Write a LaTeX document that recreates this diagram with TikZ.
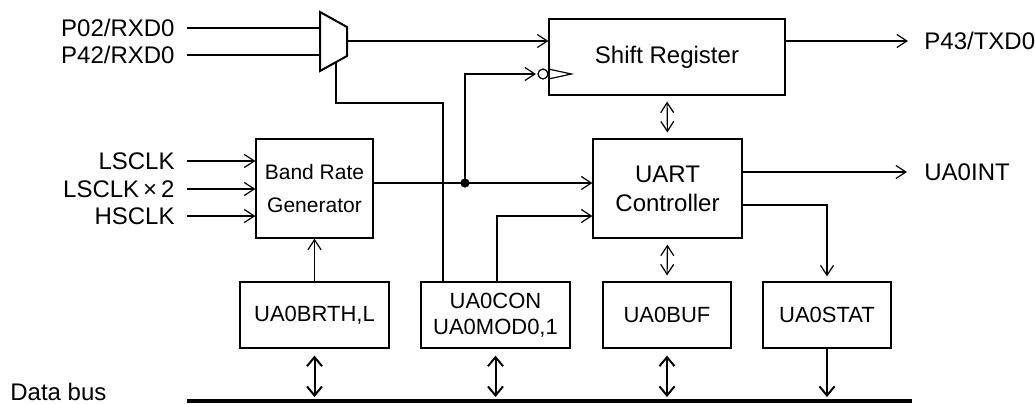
\documentclass[tikz,border=0pt]{standalone}
\usepackage{fontspec}
\setmainfont{Liberation Sans}
\usetikzlibrary{arrows.meta,calc}

\tikzset{
  blk/.style={draw, line width=0.6pt, inner sep=0pt, align=center, font=\fontsize{12}{14.5}\selectfont},
  reg/.style={blk, minimum height=33pt, font=\fontsize{11}{13}\selectfont},
  pin/.style={inner sep=0pt, text height=8.6pt, text depth=0pt, font=\fontsize{12}{14}\selectfont},
  sig/.style={line width=0.6pt},
  tip/.style={sig, -{Straight Barb[length=5pt,width=6.5pt]}},
  bitip/.style={sig, {Straight Barb[length=5pt,width=6.5pt]}-{Straight Barb[length=5pt,width=6.5pt]}},
  busarrow/.style={line width=1pt, {Straight Barb[length=4.5pt,width=7.5pt]}-{Straight Barb[length=4.5pt,width=7.5pt]}},
  busdown/.style={line width=1pt, -{Straight Barb[length=4.5pt,width=7.5pt]}},
}

\begin{document}
\begin{tikzpicture}[x=0.5pt,y=-0.5pt]
  \useasboundingbox (0,0) rectangle (1035,403);

  % main blocks
  \node[blk, minimum width=118pt, minimum height=38pt] (shift) at (667,57) {Shift Register};
  \node[blk, minimum width=74.5pt, minimum height=49.5pt] (uart) at (667.5,188.5) {UART\\Controller};
  \node[blk, minimum width=58.5pt, minimum height=49.5pt, font=\fontsize{10.5}{16.5}\selectfont] (brg) at (314.5,188.5) {Band Rate\\Generator};

  % registers
  \node[reg, minimum width=74.5pt] (brth) at (314.5,315) {UA0BRTH,L};
  \node[reg, minimum width=74.5pt] (con) at (495.5,315) {UA0CON\\UA0MOD0,1};
  \node[reg, minimum width=64pt] (buf) at (667,315) {UA0BUF};
  \node[reg, minimum width=64pt] (stat) at (827,315) {UA0STAT};

  % pins
  \node[pin, anchor=east] (p02) at (175,28) {P02/RXD0};
  \node[pin, anchor=east] (p42) at (175,55) {P42/RXD0};
  \node[pin, anchor=east] (lsclk) at (175,161) {LSCLK};
  \node[pin, anchor=east] (lsclkx) at (175,189) {LSCLK\,×\,2};
  \node[pin, anchor=east] (hsclk) at (175,216) {HSCLK};
  \node[pin, anchor=west] (txd) at (924,41) {P43/TXD0};
  \node[pin, anchor=west] (int) at (924,172) {UA0INT};
  \node[pin, anchor=west] (dbus) at (10,392) {Data bus};

  % multiplexer
  \coordinate (mtop) at (320,12);
  \coordinate (mout) at (347,41);
  \coordinate (msel) at (336,62);
  \draw[line width=1pt] (mtop) -- (347,27) -- (347,56) -- (320,71) -- cycle;
  \foreach \p in {p02,p42}
    \draw[sig, shorten <=6pt] (\p.east) -- (\p.east -| mtop);
  \draw[tip] (mout) -- (mout -| shift.west);
  \coordinate (sel) at (443,103);
  \draw[sig] (msel) |- (sel) -- (sel |- con.north);

  % clock inputs
  \foreach \p in {lsclk,lsclkx,hsclk}
    \draw[tip, shorten <=6pt] (\p.east) -- (\p.east -| brg.west);
  \draw[tip] (brth.north) -- (brg.south);

  % baud clock to shift register and controller
  \coordinate (dot) at (465,183);
  \coordinate (clk) at (543,74);
  \draw[tip] (brg.east |- dot) -- (dot -| uart.west);
  \fill (dot) circle (2.3pt);
  \draw[tip] (dot) |- ($(clk)+(-7,0)$);
  \draw[sig] (clk) circle (2.5pt);
  \draw[sig] ($(shift.west |- clk)+(0,-5)$) -- ($(shift.west |- clk)+(23,0)$) -- ($(shift.west |- clk)+(0,5)$);

  % mode control
  \coordinate (mode) at (497,216);
  \draw[tip] (mode |- con.north) -- (mode) -- (mode -| uart.west);

  % controller links
  \draw[bitip, shorten <=3pt, shorten >=3pt] (shift.south) -- (uart.north);
  \draw[bitip, shorten <=3pt, shorten >=3pt] (uart.south) -- (buf.north);
  \draw[tip, shorten >=8.5pt] (int.west -| uart.east) -- (int.west);
  \draw[tip, shorten >=8pt] (txd.west -| shift.east) -- (txd.west);
  \draw[tip, shorten >=2.5pt] ($(uart.east)+(0,16.5)$) -| (stat.north);

  % data bus
  \coordinate (busL) at (187,401);
  \coordinate (busR) at (912,401);
  \draw[line width=2pt] (busL) -- (busR);
  \foreach \r in {brth,con,buf}
    \draw[busarrow, shorten <=3.5pt, shorten >=2pt] (\r.south) -- (\r.south |- busL);
  \draw[busdown, shorten >=2pt] (stat.south) -- (stat.south |- busL);
\end{tikzpicture}
\end{document}
